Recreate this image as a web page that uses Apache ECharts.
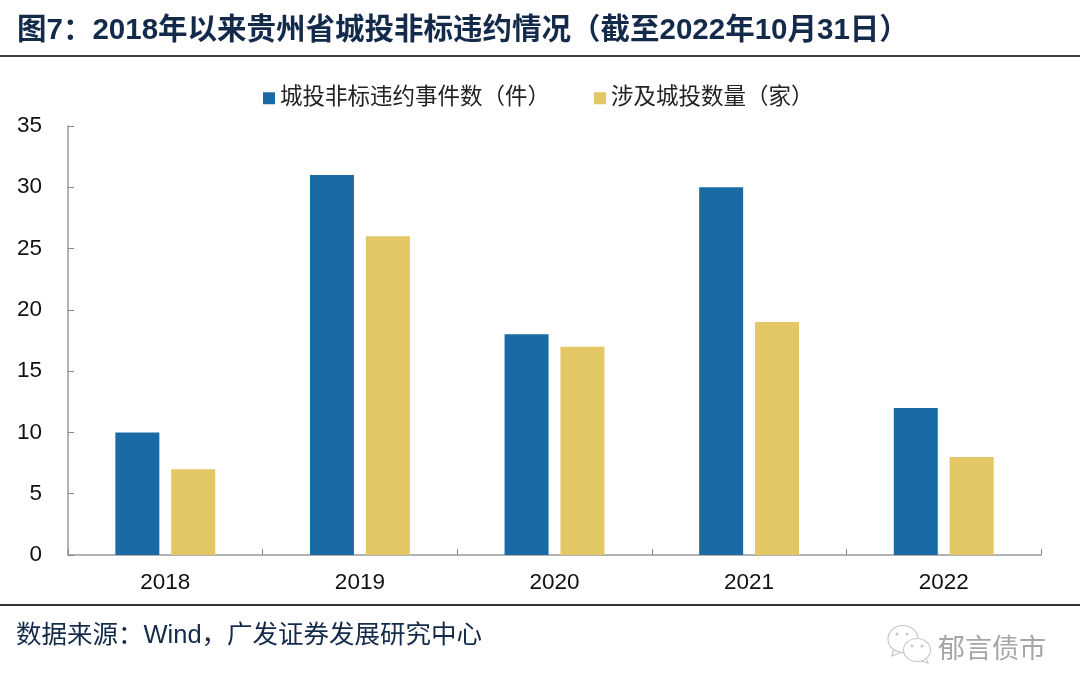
<!DOCTYPE html>
<html>
<head>
<meta charset="utf-8">
<style>
html, body { margin: 0; padding: 0; background: #fff; }
#chart { width: 1080px; height: 694px; }
</style>
<script src="https://cdn.jsdelivr.net/npm/echarts@6/dist/echarts.min.js"></script>
</head>
<body>
<div id="chart"></div>
<script>
const titleText = "图7：2018年以来贵州省城投非标违约情况（截至2022年10月31日）";
const sourceText = "数据来源：Wind，广发证券发展研究中心";
const watermarkText = "郁言债市";
const categories = ["2018", "2019", "2020", "2021", "2022"];
const eventName = "城投非标违约事件数（件）";
const eventValues = [10, 31, 18, 30, 12];
const companyName = "涉及城投数量（家）";
const companyValues = [7, 26, 17, 19, 8];

const latin = '"Liberation Sans", "Noto Sans CJK SC", sans-serif';
let myChart = echarts.init(document.getElementById("chart"), null, { renderer: "canvas" });

// 水印图标
function bubble(cx, cy, rx, ry) {
  return {
    type: "ellipse",
    shape: { cx: cx, cy: cy, rx: rx, ry: ry },
    style: { fill: "#fff", stroke: "#c8c8c8", lineWidth: 1.2 },
  };
}
function bubbleTail(points) {
  return {
    type: "polyline",
    shape: { points: points },
    style: { fill: "#fff", stroke: "#c8c8c8", lineWidth: 1.2 },
  };
}
function eye(cx, cy) {
  return { type: "circle", shape: { cx: cx, cy: cy, r: 1.5 }, style: { fill: "#c8c8c8" } };
}

let option = {
  animation: false,
  backgroundColor: "#fff",
  title: {
    text: titleText,
    left: 12,
    top: 11,
    textStyle: { color: "#132a4a", fontSize: 29.5, fontWeight: "bold", fontFamily: latin },
  },
  legend: {
    top: 82,
    left: 258,
    icon: "rect",
    itemWidth: 12,
    itemHeight: 12,
    itemGap: 44,
    textStyle: { color: "#222", fontSize: 22.5, fontFamily: latin },
    data: [eventName, companyName],
  },
  grid: { left: 68, right: 39, top: 126, bottom: 139 },
  xAxis: {
    type: "category",
    data: categories,
    axisLine: { lineStyle: { color: "#999", width: 1.5 } },
    axisTick: { show: true, inside: true, length: 6, lineStyle: { color: "#888" } },
    axisLabel: { color: "#111", fontSize: 22.5, fontFamily: latin, margin: 17 },
  },
  yAxis: {
    type: "value",
    min: 0,
    max: 35,
    interval: 5,
    axisLine: { show: true, lineStyle: { color: "#999", width: 1.5 } },
    axisTick: { show: true, inside: true, length: 6, lineStyle: { color: "#888" } },
    axisLabel: { color: "#111", fontSize: 22.5, fontFamily: latin, margin: 26, padding: [4, 0, 0, 0] },
    splitLine: { show: false },
  },
  series: [
    {
      name: eventName,
      type: "bar",
      data: eventValues,
      barWidth: 44,
      barGap: "27%",
      itemStyle: { color: "#1a6aa6" },
    },
    {
      name: companyName,
      type: "bar",
      data: companyValues,
      barWidth: 44,
      itemStyle: { color: "#e3c764" },
    },
  ],
  graphic: [
    { type: "rect", shape: { x: 0, y: 55, width: 1080, height: 2 }, style: { fill: "#444" } },
    { type: "rect", shape: { x: 0, y: 604, width: 1080, height: 2 }, style: { fill: "#333" } },
    {
      type: "text",
      x: 16,
      y: 636,
      style: {
        text: sourceText,
        fill: "#132a4a",
        font: "25.5px " + latin,
        verticalAlign: "middle",
      },
    },
    bubbleTail([[894, 648], [892, 656], [902, 652]]),
    bubble(903, 639, 15, 13.5),
    bubbleTail([[925, 656], [928, 663], [918, 660]]),
    bubble(917, 650, 13.5, 11.5),
    eye(897, 634),
    eye(907, 634),
    eye(912, 646),
    eye(922, 646),
    {
      type: "text",
      x: 938,
      y: 651,
      style: {
        text: watermarkText,
        fill: "#a6a6a6",
        font: "27px " + latin,
        verticalAlign: "middle",
      },
    },
  ],
};
myChart.setOption(option);
</script>
</body>
</html>
